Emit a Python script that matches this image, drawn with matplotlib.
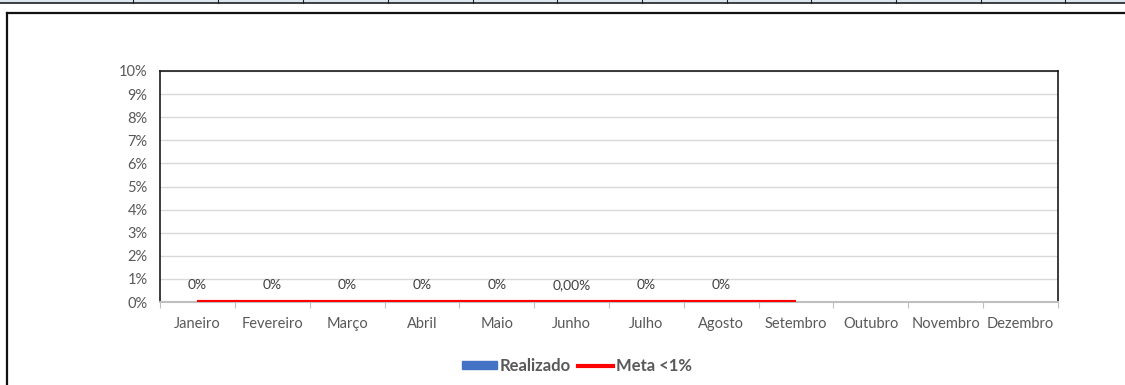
import numpy as np
import matplotlib
matplotlib.use("Agg")
import matplotlib.pyplot as plt
from matplotlib.lines import Line2D
from matplotlib.patches import Rectangle

plt.rcParams['font.family'] = ['Lato', 'DejaVu Sans']

meses = ['Janeiro', 'Fevereiro', 'Março', 'Abril', 'Maio', 'Junho',
         'Julho', 'Agosto', 'Setembro', 'Outubro', 'Novembro', 'Dezembro']
realizado = [0.0, 0.0, 0.0, 0.0, 0.0, 0.0, 0.0, 0.0,
             np.nan, np.nan, np.nan, np.nan]
rotulos = ['0%', '0%', '0%', '0%', '0%', '0,00%', '0%', '0%']
meta = [0.0, 0.0, 0.0, 0.0, 0.0, 0.0, 0.0, 0.0, 0.0,
        np.nan, np.nan, np.nan]
y_ticks = [0, 1, 2, 3, 4, 5, 6, 7, 8, 9, 10]

cinza = '#595959'
W, H = 1125, 385

fig = plt.figure(figsize=(W / 100, H / 100), dpi=100)
fig.patch.set_facecolor('white')
ax = fig.add_axes([160 / W, 1 - 302 / H, (1058 - 160) / W, (302 - 71) / H])

x = np.arange(len(meses))
barras = ax.bar(x, realizado, width=0.55, color='#4472C4', label='Realizado', zorder=2)
ax.plot(x, meta, color='#FF0000', lw=3.0, label='Meta <1%', zorder=3,
        solid_capstyle='butt')

for i, txt in enumerate(rotulos):
    ax.annotate(txt, (x[i], realizado[i]), xytext=(0, 12), textcoords='offset points',
                ha='center', va='center', fontsize=10, color='#404040')

ax.set_xlim(-0.5, len(meses) - 0.5)
ax.set_ylim(0, 10)
ax.set_yticks(y_ticks)
ax.set_yticklabels([f'{v}%' for v in y_ticks])
ax.set_xticks(x)
ax.set_xticklabels(meses)
ax.set_xticks(np.arange(-0.5, len(meses)), minor=True)
ax.tick_params(axis='x', which='major', length=0, pad=11, labelsize=10.5, labelcolor=cinza)
ax.tick_params(axis='x', which='minor', length=4, width=0.8, color='#bfbfbf', direction='out')
ax.tick_params(axis='y', length=0, pad=9, labelsize=10.5, labelcolor=cinza)

ax.yaxis.grid(True, color='#d9d9d9', lw=1.0, zorder=0)
ax.set_axisbelow(True)
for s in ['top', 'right', 'left']:
    ax.spines[s].set_color('#1a1a1a')
    ax.spines[s].set_linewidth(1.2)
ax.spines['bottom'].set_color('#bfbfbf')
ax.spines['bottom'].set_linewidth(1.5)

leg = fig.legend(handles=[Rectangle((0, 0), 1, 1, color='#4472C4'),
                          Line2D([], [], color='#FF0000', lw=3.0)],
                 labels=['Realizado', 'Meta <1%'],
                 loc='center', bbox_to_anchor=(577 / W, 1 - 366 / H), ncol=2,
                 frameon=False, handlelength=2.1, handleheight=0.4,
                 handletextpad=0.2, columnspacing=0.4,
                 prop={'weight': 'bold', 'size': 12})
for t in leg.get_texts():
    t.set_color(cinza)

# faixa da planilha no topo
fig.add_artist(Rectangle((0, 1 - 2.5 / H), 1, 2.5 / H, transform=fig.transFigure,
                         facecolor='#dce6f1', edgecolor='none'))
fig.add_artist(Line2D([0, 1], [1 - 3 / H, 1 - 3 / H], transform=fig.transFigure,
                      color='#1f1f1f', lw=1.2))
for xs in [133, 218, 303, 388, 473, 557, 642, 727, 811, 896, 981, 1065]:
    fig.add_artist(Line2D([xs / W, xs / W], [1 - 3 / H, 1], transform=fig.transFigure,
                          color='#1f1f1f', lw=0.8))

# borda do gráfico
fig.add_artist(Line2D([7 / W, 1], [1 - 13 / H, 1 - 13 / H], transform=fig.transFigure,
                      color='#111111', lw=1.6))
fig.add_artist(Line2D([7 / W, 7 / W], [0, 1 - 13 / H], transform=fig.transFigure,
                      color='#111111', lw=1.6))

fig.savefig('out.png', dpi=100)
